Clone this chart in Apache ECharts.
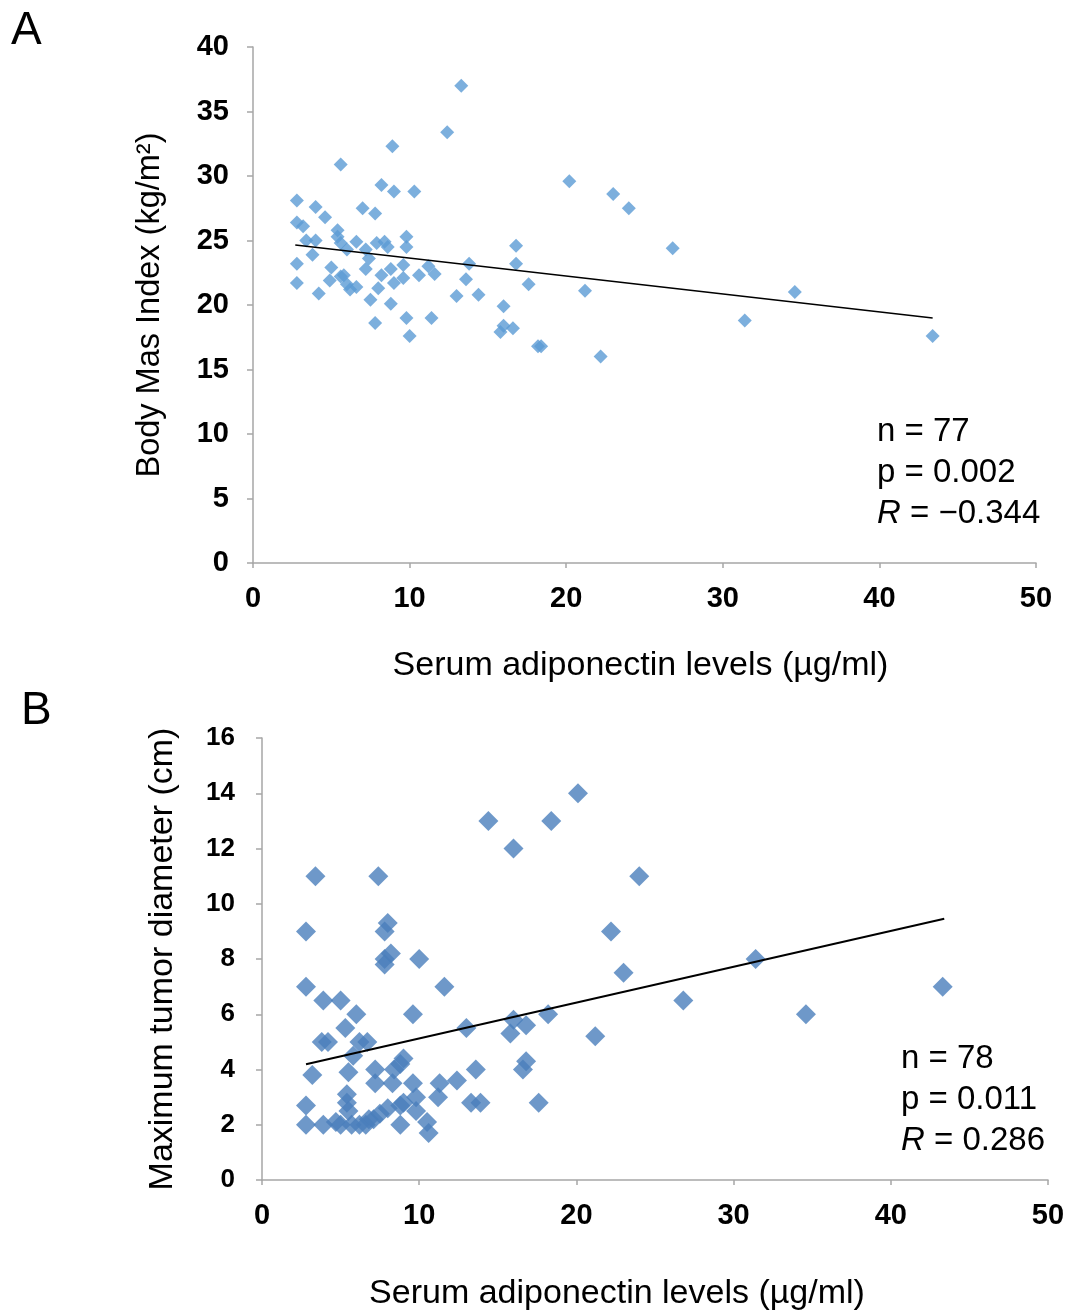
<!DOCTYPE html>
<html>
<head>
<meta charset="utf-8">
<script src="https://cdn.jsdelivr.net/npm/echarts@6/dist/echarts.min.js"></script>
<style>
html,body{margin:0;padding:0;background:#fff;}
#chart{width:1084px;height:1312px;}
</style>
</head>
<body>
<div id="chart"></div>
<script>
// Panel A: serum adiponectin (µg/ml) vs BMI (kg/m²)
const bmiPoints = [
  [13.3,37.0],[12.4,33.4],[8.9,32.3],[5.6,30.9],[2.8,28.1],[8.2,29.3],[9.0,28.8],[10.3,28.8],
  [4.0,27.6],[7.0,27.5],[7.8,27.1],[4.6,26.8],[2.8,26.4],[3.2,26.1],[5.4,25.8],[5.4,25.3],
  [9.8,25.3],[3.4,25.0],[4.0,25.0],[5.6,24.8],[6.6,24.9],[7.9,24.8],[8.4,24.9],[8.6,24.5],
  [9.8,24.5],[6.0,24.3],[7.2,24.3],[16.8,24.6],[26.8,24.4],[3.8,23.9],[7.4,23.6],[13.8,23.2],
  [16.8,23.2],[2.8,23.2],[5.0,22.9],[7.2,22.8],[8.8,22.8],[9.6,23.1],[11.2,23.0],[11.6,22.4],
  [10.6,22.3],[9.6,22.1],[13.6,22.0],[8.2,22.3],[5.8,22.3],[5.6,22.2],[4.9,21.9],[9.0,21.7],
  [2.8,21.7],[6.0,21.6],[6.6,21.4],[6.2,21.2],[8.0,21.3],[17.6,21.6],[4.2,20.9],[13.0,20.7],
  [14.4,20.8],[21.2,21.1],[34.6,21.0],[7.5,20.4],[8.8,20.1],[16.0,19.9],[7.8,18.6],[9.8,19.0],
  [11.4,19.0],[31.4,18.8],[15.8,17.9],[16.0,18.4],[16.6,18.2],[10.0,17.6],[43.4,17.6],[18.2,16.8],
  [18.4,16.8],[22.2,16.0],[20.2,29.6],[23.0,28.6],[24.0,27.5]
];
const bmiTrend = [[2.7,24.65],[43.4,19.0]];

// Panel B: serum adiponectin (µg/ml) vs maximum tumor diameter (cm)
const tumorPoints = [
  [20.1,14.0],[14.4,13.0],[18.4,13.0],[16.0,12.0],[3.4,11.0],[7.4,11.0],[24.0,11.0],[2.8,9.0],
  [8.0,9.3],[7.8,9.0],[22.2,9.0],[8.2,8.2],[7.8,8.0],[7.8,7.8],[10.0,8.0],[31.4,8.0],
  [2.8,7.0],[11.6,7.0],[43.3,7.0],[23.0,7.5],[3.9,6.5],[5.0,6.5],[26.8,6.5],[6.0,6.0],
  [9.6,6.0],[18.2,6.0],[34.6,6.0],[16.0,5.8],[15.8,5.3],[16.8,5.6],[21.2,5.2],[13.0,5.5],
  [5.3,5.5],[3.8,5.0],[4.2,5.0],[6.2,5.0],[6.7,5.0],[5.8,4.5],[9.0,4.4],[8.8,4.2],
  [16.8,4.3],[16.6,4.0],[13.6,4.0],[3.2,3.8],[5.5,3.9],[7.2,4.0],[8.4,4.0],[5.4,3.1],
  [7.2,3.5],[8.3,3.5],[9.6,3.5],[11.3,3.5],[12.4,3.6],[5.4,2.8],[5.5,2.5],[2.8,2.7],
  [9.8,3.0],[11.2,3.0],[13.3,2.8],[13.9,2.8],[17.6,2.8],[7.5,2.4],[8.0,2.6],[8.8,2.7],
  [9.0,2.8],[6.8,2.2],[9.8,2.5],[2.8,2.0],[3.9,2.0],[4.7,2.1],[5.0,2.0],[5.7,2.0],
  [6.6,2.0],[8.8,2.0],[10.5,2.1],[10.6,1.7],[6.2,2.0],[7.1,2.2]
];
const tumorTrend = [[2.8,4.19],[43.4,9.46]];

const xTicksA = {min:0, max:50, interval:10};
const yTicksA = {min:0, max:40, interval:5};
const xTicksB = {min:0, max:50, interval:10};
const yTicksB = {min:0, max:16, interval:2};

const statsA = ['n = 77','p = 0.002','−0.344'];
const statsB = ['n = 78','p = 0.011','0.286'];

const FONT = '"Liberation Sans", Arial, Helvetica, sans-serif';
const axisGray = '#a6a6a6';

function xAxisCfg(gridIndex, ticks, labelSize, nameGap, shiftLeft) {
  return {
    type:'value', gridIndex, min:ticks.min, max:ticks.max, interval:ticks.interval,
    axisLine:{show:true, onZero:false, lineStyle:{color:axisGray, width:1.5}},
    axisTick:{show:true, length:5, lineStyle:{color:axisGray, width:1.5}},
    splitLine:{show:false},
    axisLabel:{color:'#000', fontWeight:'bold', fontSize:labelSize, fontFamily:FONT, margin:21},
    name:'Serum adiponectin levels (µg/ml)', nameLocation:'middle', nameGap,
    nameTextStyle:{color:'#000', fontSize:34, fontFamily:FONT, padding:[0, shiftLeft*2, 0, 0]}
  };
}
function yAxisCfg(gridIndex, ticks, labelSize, margin, name, nameSize, nameGap) {
  return {
    type:'value', gridIndex, min:ticks.min, max:ticks.max, interval:ticks.interval,
    axisLine:{show:true, onZero:false, lineStyle:{color:axisGray, width:1.5}},
    axisTick:{show:true, length:6, lineStyle:{color:axisGray, width:1.5}},
    splitLine:{show:false},
    axisLabel:{color:'#000', fontWeight:'bold', fontSize:labelSize, fontFamily:FONT, margin},
    name, nameLocation:'middle', nameGap,
    nameTextStyle:{color:'#000', fontSize:nameSize, fontFamily:FONT}
  };
}

const richStats = {
  t:{fontSize:33, lineHeight:41, fontFamily:FONT, fontWeight:'normal', color:'#000'},
  i:{fontSize:33, lineHeight:41, fontFamily:FONT, fontWeight:'normal', fontStyle:'italic', color:'#000'}
};

const chart = echarts.init(document.getElementById('chart'), null, {renderer:'canvas'});
chart.setOption({
  backgroundColor:'#fff',
  animation:false,
  grid:[
    {left:253, top:47, width:783, height:516},
    {left:262, top:738, width:786, height:443}
  ],
  xAxis:[ xAxisCfg(0, xTicksA, 29, 86, 4), xAxisCfg(1, xTicksB, 29, 97, 38) ],
  yAxis:[
    yAxisCfg(0, yTicksA, 29, 24, 'Body Mas Index (kg/m²)', 32.5, 86),
    yAxisCfg(1, yTicksB, 26, 27, 'Maximum tumor diameter (cm)', 34, 82)
  ],
  title:[
    {left:872, top:406, text:'{t|'+statsA[0]+'}\n{t|'+statsA[1]+'}\n{i|R}{t| = '+statsA[2]+'}',
     textStyle:{fontWeight:'normal', rich:richStats}},
    {left:896, top:1033, text:'{t|'+statsB[0]+'}\n{t|'+statsB[1]+'}\n{i|R}{t| = '+statsB[2]+'}',
     textStyle:{fontWeight:'normal', rich:richStats}}
  ],
  graphic:[
    {type:'text', left:11, top:8, style:{text:'A', fontSize:46, fontFamily:FONT, fill:'#000'}},
    {type:'text', left:21, top:688, style:{text:'B', fontSize:46, fontFamily:FONT, fill:'#000'}}
  ],
  series:[
    {type:'scatter', xAxisIndex:0, yAxisIndex:0, data:bmiPoints, symbol:'diamond', symbolSize:14,
     itemStyle:{color:'#5b9bd5'}, z:2},
    {type:'line', xAxisIndex:0, yAxisIndex:0, data:bmiTrend, symbol:'none',
     lineStyle:{color:'#000', width:1.5}, z:3},
    {type:'scatter', xAxisIndex:1, yAxisIndex:1, data:tumorPoints, symbol:'diamond', symbolSize:20,
     itemStyle:{color:'#4a7ebb'}, z:2},
    {type:'line', xAxisIndex:1, yAxisIndex:1, data:tumorTrend, symbol:'none',
     lineStyle:{color:'#000', width:2}, z:3}
  ]
});
</script>
</body>
</html>
